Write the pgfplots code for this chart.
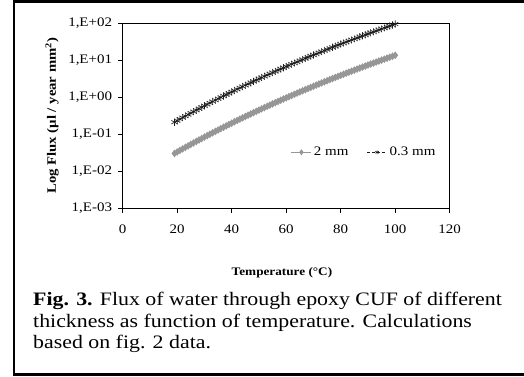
\documentclass[border=0pt]{standalone}
\usepackage{fontspec}
\setmainfont{Liberation Serif}[FakeStretch=1.15]
\usepackage{pgfplots}
\pgfplotsset{compat=1.18}
\usepackage{pgfplotstable}
\definecolor{lightser}{RGB}{150,150,150}
\definecolor{darkser}{RGB}{30,30,30}
% T = temperature (deg C); a = log10 flux 0.3 mm; b = log10 flux 2 mm
\pgfplotstableread{
T a b
19 -0.673 -1.518
20 -0.632 -1.477
21 -0.590 -1.435
22 -0.549 -1.394
23 -0.508 -1.353
24 -0.468 -1.313
25 -0.427 -1.272
26 -0.387 -1.232
27 -0.348 -1.193
28 -0.308 -1.153
29 -0.269 -1.114
30 -0.230 -1.075
31 -0.191 -1.036
32 -0.153 -0.998
33 -0.114 -0.959
34 -0.076 -0.921
35 -0.039 -0.884
36 -0.001 -0.846
37 0.036 -0.809
38 0.073 -0.772
39 0.110 -0.735
40 0.146 -0.699
41 0.183 -0.662
42 0.219 -0.626
43 0.255 -0.590
44 0.290 -0.555
45 0.326 -0.519
46 0.361 -0.484
47 0.396 -0.449
48 0.431 -0.414
49 0.465 -0.380
50 0.499 -0.346
51 0.533 -0.312
52 0.567 -0.278
53 0.601 -0.244
54 0.634 -0.211
55 0.668 -0.177
56 0.701 -0.144
57 0.734 -0.111
58 0.766 -0.079
59 0.799 -0.046
60 0.831 -0.014
61 0.863 0.018
62 0.895 0.050
63 0.927 0.082
64 0.958 0.113
65 0.990 0.145
66 1.021 0.176
67 1.052 0.207
68 1.082 0.237
69 1.113 0.268
70 1.143 0.298
71 1.174 0.329
72 1.204 0.359
73 1.234 0.389
74 1.263 0.418
75 1.293 0.448
76 1.322 0.477
77 1.351 0.506
78 1.381 0.536
79 1.409 0.564
80 1.438 0.593
81 1.467 0.622
82 1.495 0.650
83 1.523 0.678
84 1.551 0.706
85 1.579 0.734
86 1.607 0.762
87 1.635 0.790
88 1.662 0.817
89 1.689 0.844
90 1.717 0.872
91 1.744 0.899
92 1.770 0.925
93 1.797 0.952
94 1.824 0.979
95 1.850 1.005
96 1.876 1.031
97 1.903 1.058
98 1.928 1.083
99 1.954 1.109
100 1.980 1.135
}\fluxdata

\begin{document}
\begin{tikzpicture}[x=1pt,y=1pt]
\useasboundingbox (0,0) rectangle (524,376);
\draw[line width=2.5pt] (524,374.7) -- (13.8,374.7) -- (13.8,1.5) -- (524,1.5);
\begin{axis}[
  at={(122.7pt,167.7pt)}, anchor=south west,
  width=327pt, height=185pt, scale only axis,
  xmin=0, xmax=120, ymin=-3, ymax=2,
  xtick={0,20,40,60,80,100,120},
  xticklabels={0,20,40,60,80,100,120},
  ytick={-3,-2,-1,0,1,2},
  yticklabels={{1,E-03},{1,E-02},{1,E-01},{1,E+00},{1,E+01},{1,E+02}},
  tick align=outside, xtick pos=bottom, ytick pos=left,
  major tick length=4.5pt,
  axis line style={line width=0.8pt},
  tick style={line width=0.8pt, black},
  ticklabel style={font=\fontsize{13}{15}\selectfont, inner sep=0pt},
  xticklabel style={anchor=north, yshift=-12pt},
  yticklabel style={anchor=east, xshift=-6pt},
  xlabel={\textbf{Temperature (°C)}},
  xlabel style={at={(axis description cs:0.487,-0.362)}, anchor=base, inner sep=0pt, font=\fontsize{11.5}{13}\selectfont},
  ylabel={\textbf{Log Flux (µl / year mm\textsuperscript{2})}},
  ylabel style={at={(axis description cs:-0.216,0.5)}, anchor=center, inner sep=0pt, font=\fontsize{12.8}{14}\selectfont},
  legend style={at={(axis description cs:0.963,0.303)}, anchor=east, draw=none, fill=none,
    font=\fontsize{13}{15}\selectfont, inner sep=0pt,
    /tikz/every even column/.append style={column sep=16pt}},
  legend columns=2,
  legend cell align=left,
  legend image code/.code={\draw[#1, mark size=2pt, mark repeat=2, mark phase=2] plot coordinates {(0cm,0cm) (0.35cm,0cm) (0.7cm,0cm)};},
]
\addplot[color=lightser, line width=1.2pt, mark=diamond*, mark size=2.9pt, mark options={solid}] table[x=T,y=b]{\fluxdata};
\addlegendentry{2 mm}
\addplot[color=darkser, densely dashed, line width=1.4pt, mark=asterisk, mark size=3.6pt, mark options={solid, line width=0.6pt}] table[x=T,y=a]{\fluxdata};
\addlegendentry{0.3 mm}
\end{axis}
\node[anchor=base west, inner sep=0pt, font=\fontsize{19}{21}\selectfont] at (33,70.3) {\textbf{Fig. 3.} Flux of water through epoxy CUF of different};
\node[anchor=base west, inner sep=0pt, font=\fontsize{19}{21}\selectfont] at (33,48.7) {thickness as function of temperature. Calculations};
\node[anchor=base west, inner sep=0pt, font=\fontsize{19}{21}\selectfont] at (33,27.7) {based on fig. 2 data.};
\end{tikzpicture}
\end{document}
